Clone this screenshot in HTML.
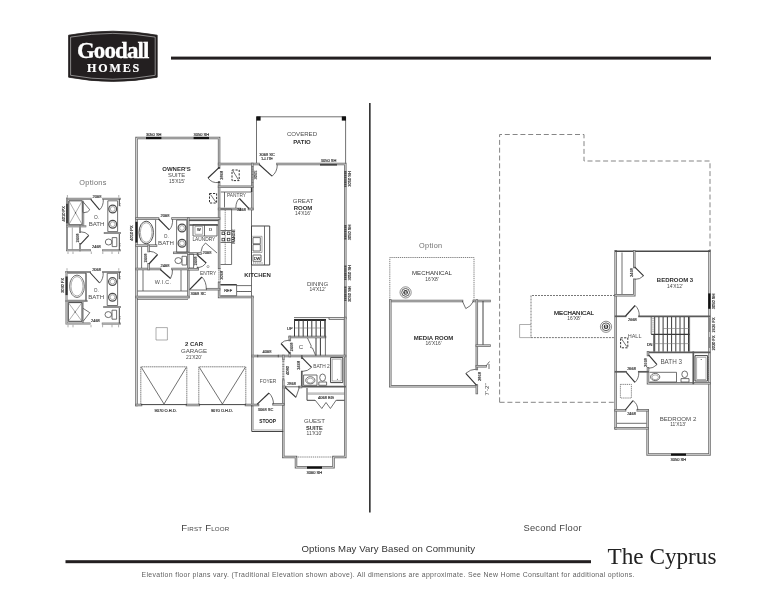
<!DOCTYPE html>
<html><head><meta charset="utf-8"><title>The Cyprus</title>
<style>
html,body{margin:0;padding:0;background:#fff;}
body{width:776px;height:600px;overflow:hidden;font-family:"Liberation Sans",sans-serif;}
svg{display:block;will-change:transform;opacity:0.9999;}
text{font-family:"Liberation Sans",sans-serif;}
.w{fill:none;stroke:#6a6a6a;stroke-width:2.5;stroke-linecap:square;stroke-linejoin:miter;}
.wi{fill:none;stroke:#d8d8d8;stroke-width:0.9;stroke-linecap:square;stroke-linejoin:miter;}
.w2{fill:none;stroke:#707070;stroke-width:2;stroke-linecap:square;}
.wi2{fill:none;stroke:#ddd;stroke-width:0.6;stroke-linecap:square;}
.wm{fill:none;stroke:#5a5a5a;stroke-width:1.7;stroke-linecap:square;}
.t{fill:none;stroke:#4c4c4c;stroke-width:0.8;}
.t2{fill:none;stroke:#444;stroke-width:1;}
.tk{fill:none;stroke:#222;stroke-width:1.3;}
.f{fill:none;stroke:#777;stroke-width:0.6;}
.dd{fill:none;stroke:#5a5a5a;stroke-width:0.75;stroke-dasharray:1.3 0.8;}
.dm{fill:none;stroke:#555;stroke-width:0.8;stroke-dasharray:2 1;}
.db{fill:none;stroke:#333;stroke-width:1;stroke-dasharray:2.2 1.3;}
.dn{fill:none;stroke:#666;stroke-width:0.8;stroke-dasharray:1.6 0.5;}
.dg{fill:none;stroke:#808080;stroke-width:0.95;stroke-dasharray:5 2.8;}
.r{font-size:6.1px;fill:#4c4c4c;}
.rb{font-size:6px;fill:#2e2e2e;font-weight:bold;}
.s{font-size:4.9px;fill:#444;}
.l{font-size:4px;fill:#222;stroke:#222;stroke-width:0.13;}
.m{font-size:4.8px;fill:#4c4c4c;}
.m2{font-size:6.3px;fill:#555;}
.m3{font-size:5.5px;fill:#555;}
.sb{font-size:4.8px;fill:#222;font-weight:bold;}
</style></head><body>
<svg width="776" height="600" viewBox="0 0 776 600">
<rect width="776" height="600" fill="#fff"/>
<g id="logo">
<path d="M68.6,35.2 Q112.8,27.2 157.2,35.2 L157.2,77.2 Q112.8,85.6 68.6,77.2 Z" fill="#231f20" stroke="#231f20" stroke-width="0.8" stroke-linejoin="round"/>
<path d="M70.6,37.1 Q112.8,29.7 155.2,37.1 L155.2,75.3 Q112.8,83.1 70.6,75.3 Z" fill="none" stroke="#cfcfcf" stroke-width="0.6"/>
<text x="76.9" y="58.3" textLength="71.6" lengthAdjust="spacingAndGlyphs" style="font-family:'Liberation Serif',serif;font-weight:bold;font-size:22.8px;fill:#fff;stroke:#fff;stroke-width:0.3;letter-spacing:-0.9px">Goodall</text>
<text x="87" y="71.5" textLength="52.2" lengthAdjust="spacing" style="font-family:'Liberation Serif',serif;font-weight:bold;font-size:12px;fill:#fff;stroke:#fff;stroke-width:0.2">HOMES</text>
</g>
<rect x="171" y="56.6" width="540" height="3" fill="#231f20"/>
<rect x="369.1" y="103" width="1.5" height="409.5" fill="#222"/>
<text x="181.3" y="530.8" style="font-size:9.6px;fill:#444;letter-spacing:0.2px">F<tspan style="font-size:6.2px">IRST</tspan> F<tspan style="font-size:6.2px">LOOR</tspan></text>
<text x="523.5" y="530.8" style="font-size:9.3px;fill:#444;letter-spacing:0.25px">Second Floor</text>
<text x="301.5" y="552" style="font-size:9.6px;fill:#333" textLength="173.5" lengthAdjust="spacing">Options May Vary Based on Community</text>
<rect x="65.5" y="560.2" width="525.5" height="3" fill="#231f20"/>
<text x="607.5" y="564" textLength="109" lengthAdjust="spacingAndGlyphs" style="font-family:'Liberation Serif',serif;font-size:23.4px;fill:#222">The Cyprus</text>
<text x="141.5" y="576.6" style="font-size:6.9px;fill:#606060;letter-spacing:0.12px" textLength="493" lengthAdjust="spacing">Elevation floor plans vary. (Traditional Elevation shown above). All dimensions are approximate. See New Home Consultant for additional options.</text>
<g id="first">
<path class="t" d="M256.5,164 V116.8 H345.6 V164"/>
<rect x="256.4" y="116.4" width="4.2" height="4.2" fill="#111"/>
<rect x="341.8" y="116.4" width="4.2" height="4.2" fill="#111"/>
<text x="302" y="136.4" class="r" text-anchor="middle" >COVERED</text>
<text x="302" y="144.2" class="rb" text-anchor="middle" >PATIO</text>
<path class="w" d="M136.5,405 V138 H219.1 V167.5"/>
<path class="wi" d="M136.5,405 V138 H219.1 V167.5"/>
<path class="w" d="M219.1,182.5 V268"/>
<path class="wi" d="M219.1,182.5 V268"/>
<path class="w" d="M219.1,283 V297 H252.3"/>
<path class="wi" d="M219.1,283 V297 H252.3"/>
<path class="w" d="M219.1,164 H258.5"/>
<path class="wi" d="M219.1,164 H258.5"/>
<path class="w" d="M277.5,164 H345.3 V318"/>
<path class="wi" d="M277.5,164 H345.3 V318"/>
<path class="t" d="M329,317.6 H345 M329,319.4 H345"/>
<path class="w" d="M345.3,318 V457 H333.5 V467.3 H296 V457 H283.3 V387"/>
<path class="wi" d="M345.3,318 V457 H333.5 V467.3 H296 V457 H283.3 V387"/>
<path class="f" d="M344,318.5 V356"/>
<path class="dd" d="M296,457 H333.5"/>
<path class="w" d="M252.3,164 V209"/>
<path class="wi" d="M252.3,164 V209"/>
<path class="t" d="M251.5,209 V296"/>
<path class="w" d="M219.1,186.8 H252.3"/>
<path class="wi" d="M219.1,186.8 H252.3"/>
<path class="t" d="M220.8,192 H251 M224.5,192 V207.5"/>
<path d="M251.6,187.5 V192" stroke="#333" stroke-width="1.4" fill="none"/>
<path class="w" d="M219.1,209 H240"/>
<path class="wi" d="M219.1,209 H240"/>
<path class="w" d="M249,209 H252.3"/>
<path class="wi" d="M249,209 H252.3"/>
<path class="w" d="M136.5,218.5 H158"/>
<path class="wi" d="M136.5,218.5 H158"/>
<path class="w" d="M172.5,218.5 H219.1"/>
<path class="wi" d="M172.5,218.5 H219.1"/>
<path class="w" d="M188.3,218.5 V297"/>
<path class="wi" d="M188.3,218.5 V297"/>
<path class="w" d="M136.5,269 H160"/>
<path class="wi" d="M136.5,269 H160"/>
<path class="w" d="M172.5,269 H188.3"/>
<path class="wi" d="M172.5,269 H188.3"/>
<path class="w" d="M136.5,297 H188.3"/>
<path class="wi" d="M136.5,297 H188.3"/>
<path class="t" d="M137,299.3 H188"/>
<path class="w" d="M136.5,245.6 H156"/>
<path class="wi" d="M136.5,245.6 H156"/>
<path class="t" d="M155.6,219.8 V245"/>
<path class="t" d="M141.6,247 V268"/>
<path class="w" d="M148.6,246 V251"/>
<path class="wi" d="M148.6,246 V251"/>
<path class="w" d="M148.6,264.3 V269"/>
<path class="wi" d="M148.6,264.3 V269"/>
<path class="w" d="M174.3,252.8 H188"/>
<path class="wi" d="M174.3,252.8 H188"/>
<path class="t2" d="M189,220.6 H218.5"/>
<path d="M189.5,225 H218" stroke="#222" stroke-width="1.2" fill="none"/>
<path class="w" d="M188.3,253.5 H200.5"/>
<path class="wi" d="M188.3,253.5 H200.5"/>
<path class="w" d="M207.3,289.2 H219.1"/>
<path class="wi" d="M207.3,289.2 H219.1"/>
<path class="w" d="M252.3,297 V405"/>
<path class="wi" d="M252.3,297 V405"/>
<path class="w" d="M136.5,405 H141"/>
<path class="wi" d="M136.5,405 H141"/>
<path class="w" d="M187,405 H198.8"/>
<path class="wi" d="M187,405 H198.8"/>
<path class="w" d="M246,405 H258"/>
<path class="wi" d="M246,405 H258"/>
<path class="w" d="M252.3,356 H257"/>
<path class="wi" d="M252.3,356 H257"/>
<path class="w" d="M279,356 H345"/>
<path class="wi" d="M279,356 H345"/>
<path class="w" d="M283.3,356 V359"/>
<path class="wi" d="M283.3,356 V359"/>
<path class="w" d="M283.3,380.5 V404.3"/>
<path class="wi" d="M283.3,380.5 V404.3"/>
<path class="w" d="M273.5,404.3 H283.3"/>
<path class="wi" d="M273.5,404.3 H283.3"/>
<path class="t2" d="M251.8,405 V431.5 H283.3"/>
<path class="f" d="M253.3,405 V430 H283.3"/>
<path class="wm" d="M301.8,356 V358"/>
<path class="wm" d="M301.8,371.5 V386.6 H345"/>
<path class="w" d="M301,387 H299.5"/>
<path class="wi" d="M301,387 H299.5"/>
<path class="w" d="M285,387 H283.3"/>
<path class="wi" d="M285,387 H283.3"/>
<path class="t" d="M285,386.8 H300"/>
<path class="t2" d="M307,388 V400.3 H315 M336.3,400.3 H344.5 "/>
<path class="f" d="M307.5,393 H344.5 M307.5,394.2 H344.5"/>
<path class="t" d="M315,400 L321.8,408.5 L326,402.5 L330.4,408.5 L336.3,400"/>
<text x="326" y="399.4" class="l" text-anchor="middle" >4068 BG</text>
<path class="w" d="M289.8,337 H325"/>
<path class="wi" d="M289.8,337 H325"/>
<path class="w" d="M289.8,337 V340"/>
<path class="wi" d="M289.8,337 V340"/>
<path class="w" d="M289.8,353.5 V356"/>
<path class="wi" d="M289.8,353.5 V356"/>
<path class="t" d="M294,317.6 H329 V319.6"/>
<path d="M294,320 H326" stroke="#222" stroke-width="1.9" fill="none"/>
<path d="M294.5,320 V336.5" stroke="#3a3a3a" stroke-width="1" fill="none"/>
<path d="M298.8,320 V336.5" stroke="#3a3a3a" stroke-width="1" fill="none"/>
<path d="M303.2,320 V336.5" stroke="#3a3a3a" stroke-width="1" fill="none"/>
<path d="M307.5,320 V336.5" stroke="#3a3a3a" stroke-width="1" fill="none"/>
<path d="M311.8,320 V336.5" stroke="#3a3a3a" stroke-width="1" fill="none"/>
<path d="M316.1,320 V336.5" stroke="#3a3a3a" stroke-width="1" fill="none"/>
<path d="M320.5,320 V336.5" stroke="#3a3a3a" stroke-width="1" fill="none"/>
<path d="M324.8,320 V336.5" stroke="#3a3a3a" stroke-width="1" fill="none"/>
<path class="t" d="M325.4,320 V355.5"/>
<path class="f" d="M295,328 H324"/>
<path d="M316,338 V355.5" stroke="#3a3a3a" stroke-width="1" fill="none"/>
<path d="M320.4,338 V355.5" stroke="#3a3a3a" stroke-width="1" fill="none"/>
<path class="t" d="M307.5,338 L311.3,346 L310.5,347.5 L312.5,348 L315.6,355.5"/>
<text x="289.8" y="330.2" class="l" text-anchor="middle" >UP</text>
<text x="301" y="349.2" class="r" text-anchor="middle" >C</text>
<text transform="translate(293,347) rotate(-90)" class="l" text-anchor="middle">2468</text>
<path d="M290,353.5 L281,343.5" stroke="#333" stroke-width="1.2" fill="none"/>
<path class="t" d="M281,343.5 L284.5,341 L290,340"/>
<path class="t" d="M257,355.3 H279 M257,356.8 H279"/>
<text x="267" y="353.3" class="l" text-anchor="middle" >4068</text>
<path d="M283.3,359 V381" stroke="#8a8a8a" stroke-width="2.2" stroke-dasharray="1.2 0.5" fill="none"/>
<text transform="translate(288.6,370.5) rotate(-90)" class="l" text-anchor="middle">4080</text>
<text x="291.6" y="385.2" class="l" text-anchor="middle" >2868</text>
<path d="M285.3,387.5 L296,397.3" stroke="#333" stroke-width="1.15" fill="none"/>
<path class="t" d="M296,397.3 L299.3,387.5"/>
<path d="M257,404.3 L269,393" stroke="#333" stroke-width="1.15" fill="none"/>
<path class="t" d="M269,393 Q273.5,397.5 273.5,404.3"/>
<text x="265.5" y="410.8" class="l" text-anchor="middle" >3068 SC</text>
<text transform="translate(300.3,365.3) rotate(-90)" class="l" text-anchor="middle">2468</text>
<path d="M302,357.6 L311.6,367.4" stroke="#333" stroke-width="1.1" fill="none"/>
<path class="t" d="M311.6,367.4 Q308,371.3 302,371.5"/>
<path class="t" d="M303.6,375 H317 V385.3 H303.6 Z"/>
<ellipse cx="310.3" cy="380.3" rx="4.6" ry="3.6" class="t"/>
<ellipse cx="310.3" cy="380.6" rx="3.2" ry="2.4" class="f"/>
<ellipse cx="322.6" cy="377.6" rx="2.9" ry="3.6" class="t"/>
<path class="t" d="M318.8,382 H326.6 V385.3 H318.8 Z"/>
<path class="t2" d="M330.6,357.6 H342.8 V382.6 H330.6 Z"/>
<path class="f" d="M332.2,359.2 H341.2 V381 H332.2 Z"/>
<circle cx="337.4" cy="379.3" r="0.5" fill="#333"/>
<path class="f" d="M343.9,358 V385"/>
<rect x="146" y="136.9" width="15.400000000000006" height="2.2" fill="#111"/>
<text x="153.7" y="135.8" class="l" text-anchor="middle" >3050 SH</text>
<rect x="193.6" y="136.9" width="15.400000000000006" height="2.2" fill="#111"/>
<text x="201.3" y="135.8" class="l" text-anchor="middle" >3050 SH</text>
<rect x="320" y="163.9" width="17" height="1.7" fill="#444"/>
<text x="328.5" y="162" class="l" text-anchor="middle" >3050 SH</text>
<path d="M345.3,171 V187" stroke="#505050" stroke-width="2.4" stroke-dasharray="1.4 0.45" fill="none"/>
<text transform="translate(350.6,179.0) rotate(-90)" class="l" text-anchor="middle">3050 SH</text>
<path d="M345.3,225 V240" stroke="#505050" stroke-width="2.4" stroke-dasharray="1.4 0.45" fill="none"/>
<text transform="translate(350.6,232.5) rotate(-90)" class="l" text-anchor="middle">3050 SH</text>
<path d="M345.3,265.6 V280" stroke="#505050" stroke-width="2.4" stroke-dasharray="1.4 0.45" fill="none"/>
<text transform="translate(350.6,272.8) rotate(-90)" class="l" text-anchor="middle">3050 SH</text>
<path d="M345.3,286.6 V301.6" stroke="#505050" stroke-width="2.4" stroke-dasharray="1.4 0.45" fill="none"/>
<text transform="translate(350.6,294.1) rotate(-90)" class="l" text-anchor="middle">3050 SH</text>
<rect x="135.4" y="221.8" width="2.2" height="20.8" fill="#222"/>
<text transform="translate(133.2,233) rotate(-90)" class="l" text-anchor="middle">4010 PX</text>
<path d="M252.3,166 V185" stroke="#777" stroke-width="2.4" stroke-dasharray="1 0.6" fill="none"/>
<text transform="translate(257.2,175) rotate(-90)" class="l" text-anchor="middle">3065</text>
<rect x="307" y="466.5" width="15" height="2.2" fill="#111"/>
<text x="314.4" y="473.8" class="l" text-anchor="middle" >3060 SH</text>
<text transform="translate(222.6,175.3) rotate(-90)" class="l" text-anchor="middle">2868</text>
<path d="M219,167.6 L208,178" stroke="#333" stroke-width="1.2" fill="none"/>
<path class="t" d="M208,178 Q212,183.6 219,182.4"/>
<circle cx="219.1" cy="167.7" r="0.8" fill="#222"/><circle cx="219.1" cy="182.3" r="0.8" fill="#222"/>
<text x="267" y="155.9" class="l" text-anchor="middle" >3068 SC</text>
<text x="267" y="159.8" class="l" text-anchor="middle" >1-LITE</text>
<path d="M259.2,164.5 L272,176.2" stroke="#333" stroke-width="1.1" fill="none"/>
<path class="t" d="M272,176.2 Q277.3,172 277.3,164.5"/>
<text x="165" y="216.8" class="l" text-anchor="middle" >2068</text>
<path d="M158.6,219 L169.3,229.8" stroke="#333" stroke-width="1.15" fill="none"/>
<path class="t" d="M169.3,229.8 Q173,226 172.6,219"/>
<text x="165" y="267" class="l" text-anchor="middle" >2468</text>
<path d="M160.3,269.5 L170.5,278.5" stroke="#333" stroke-width="1.15" fill="none"/>
<path class="t" d="M170.5,278.5 Q172.8,274 172.5,269.5"/>
<text transform="translate(147,258) rotate(-90)" class="l" text-anchor="middle">2468</text>
<path d="M148.9,264 L157.6,254.5" stroke="#333" stroke-width="1.15" fill="none"/>
<path class="t" d="M157.6,254.5 Q154,251.3 148.9,251.2"/>
<text x="241.6" y="210.6" class="l" text-anchor="middle" >2468</text>
<path d="M249,208.6 L239.4,198.5" stroke="#333" stroke-width="1.15" fill="none"/>
<path class="t" d="M239.4,198.5 Q236,201 235.8,208"/>
<text x="207" y="253.6" class="l" text-anchor="middle" >2068</text>
<path class="t" d="M205.5,243 L217,253 M205.5,243 Q201.5,246 201,251.8"/>
<path class="t" d="M189,254 H193.6 V268 H189"/>
<text transform="translate(197.4,261) rotate(-90)" class="l" text-anchor="middle">2468</text>
<path d="M197.5,255.2 L206.2,263" stroke="#333" stroke-width="1.2" fill="none"/>
<path class="t" d="M206.2,263 Q203.6,267 197.5,268"/>
<path class="wm" d="M197.6,253.8 V255 M197.6,267.6 V269"/>
<path class="w" d="M189,269.3 H197.6"/>
<path class="wi" d="M189,269.3 H197.6"/>
<circle cx="208" cy="266.6" r="1.1" class="f"/>
<path d="M189.6,289.6 L201.9,277" stroke="#333" stroke-width="1.2" fill="none"/>
<path class="t" d="M201.9,277 Q206.5,281.5 206.3,289.5 M189.6,290 H206.3"/>
<text x="198.2" y="294.6" class="l" text-anchor="middle" >3068 SC</text>
<text transform="translate(222.8,275.3) rotate(-90)" class="l" text-anchor="middle">3068</text>
<path class="dd" d="M218.8,268 V283 M220.2,268 V283"/>
<path class="f" d="M137.5,219.1 H156.5"/>
<ellipse cx="146.2" cy="232.5" rx="7.2" ry="11.3" class="t" style="stroke-width:1"/>
<ellipse cx="146.2" cy="232.5" rx="5.8" ry="9.8" class="f"/>
<path class="t" d="M176.6,220 H186.8 V252.3 H176.6 Z"/>
<circle cx="182" cy="228" r="3.9" class="t" style="stroke-width:1.2"/>
<circle cx="182" cy="228" r="2.4" class="f"/>
<circle cx="182" cy="243.3" r="3.9" class="t" style="stroke-width:1.2"/>
<circle cx="182" cy="243.3" r="2.4" class="f"/>
<ellipse cx="178.3" cy="260.6" rx="3.4" ry="3" class="t"/>
<path class="t" d="M182,256.3 H186.6 V265 H182 Z"/>
<path class="t" d="M143,270 V291 M181,270 V291 M137.5,291 H187.5"/>
<path class="t" d="M193,224.6 H204.5 V236 H193 Z M204.5,224.6 H217 V236 H204.5"/>
<path class="f" d="M195,226.4 H202.6 V234.3 H195 Z"/>
<text x="198.8" y="231.2" class="l" text-anchor="middle" >W</text>
<text x="210.6" y="231.2" class="l" text-anchor="middle" >D</text>
<path class="t" d="M220.5,209 H231.6 V264.5 H220.5"/>
<path class="dd" d="M225.2,210 V264"/>
<path class="t" d="M220.5,230.5 H231.6 M220.5,242.5 H231.6"/>
<rect x="222.0" y="232.0" width="2.6" height="2.6" class="t" style="stroke:#333"/>
<rect x="227.29999999999998" y="232.0" width="2.6" height="2.6" class="t" style="stroke:#333"/>
<rect x="222.0" y="238.29999999999998" width="2.6" height="2.6" class="t" style="stroke:#333"/>
<rect x="227.29999999999998" y="238.29999999999998" width="2.6" height="2.6" class="t" style="stroke:#333"/>
<text transform="translate(235.4,236.5) rotate(-90)" class="l" text-anchor="middle">RANGE</text>
<path class="t" d="M220.5,284.6 H236.6 V295.8 H220.5"/>
<path d="M220.5,284.8 H236.5" stroke="#333" stroke-width="1.3" fill="none"/>
<path class="t" d="M236.6,285.6 H251.5 M237,291.5 H251"/>
<path class="dd" d="M237,291.5 H251"/>
<text x="228.2" y="291.6" class="l" text-anchor="middle" >REF</text>
<path class="t2" d="M251.5,226 H269.7 V265 H251.5 Z"/>
<path class="t" d="M264.5,226 V265"/>
<path class="t" d="M253,237.6 H260.3 V243.8 H253 Z M253,244.6 H260.3 V251 H253 Z"/>
<path class="f" d="M252.3,236.3 H262 V252.5 H252.3"/>
<path class="t" d="M253,255 H261 V261.3 H253 Z"/>
<text x="257" y="259.6" class="l" text-anchor="middle" >DW</text>
<path class="dd" d="M253,263 H263"/>
<path class="db" d="M232,170 H239.2 V180.6 H232 Z"/>
<path class="t" d="M233,171 L238.4,179.8"/>
<path class="db" d="M209.5,193.5 H216.6 V203 H209.5 Z"/>
<path class="t" d="M210.5,194.5 L215.8,202"/>
<path class="f" d="M156,327.6 H167.4 V340 H156 Z"/>
<path class="dn" d="M140.8,404 V366.8 H186.8 V404"/>
<path class="dn" d="M198.8,404 V366.8 H245.8 V404"/>
<path class="t" d="M141.3,367.3 L164,404 L186.3,367.3"/>
<path class="t" d="M199.3,367.3 L222.4,404 L245.3,367.3"/>
<path class="t2" d="M141,404.6 H187 M198.8,404.6 H246"/>
<text x="165.6" y="411.6" class="l" text-anchor="middle" >9070 O.H.D.</text>
<text x="222" y="411.6" class="l" text-anchor="middle" >9070 O.H.D.</text>
<text x="176.5" y="170.8" class="rb" text-anchor="middle" >OWNER'S</text>
<text x="176.6" y="177.2" class="r" text-anchor="middle" style="font-size:5.8px">SUITE</text>
<text x="177" y="182.7" class="s" text-anchor="middle" >15'X15'</text>
<text x="236.5" y="197.3" class="m" text-anchor="middle" >PANTRY</text>
<text x="166.3" y="237.6" class="m" text-anchor="middle" >O.</text>
<text x="166" y="244.8" class="r" text-anchor="middle" >BATH</text>
<text x="203.8" y="241.3" class="m" text-anchor="middle" style="fill:#444">LAUNDRY</text>
<text x="208.1" y="274.7" class="m" text-anchor="middle" style="fill:#444">ENTRY</text>
<text x="163" y="284.3" class="r" text-anchor="middle" style="font-size:5.4px;letter-spacing:0.3px">W.I.C.</text>
<text x="257.5" y="277.3" class="rb" text-anchor="middle" >KITCHEN</text>
<text x="303" y="203" class="r" text-anchor="middle" >GREAT</text>
<text x="303" y="210" class="rb" text-anchor="middle" >ROOM</text>
<text x="303" y="215" class="s" text-anchor="middle" >14'X16'</text>
<text x="317.6" y="286" class="r" text-anchor="middle" >DINING</text>
<text x="317.6" y="291.3" class="s" text-anchor="middle" >14'X12'</text>
<text x="194" y="346" class="rb" text-anchor="middle" >2 CAR</text>
<text x="194" y="353.3" class="r" text-anchor="middle" >GARAGE</text>
<text x="194" y="358.5" class="s" text-anchor="middle" >21'X20'</text>
<text x="268" y="382.6" class="m" text-anchor="middle" >FOYER</text>
<text x="321.5" y="367.5" class="m" text-anchor="middle" >BATH 2</text>
<text x="267.6" y="423.3" class="sb" text-anchor="middle" >STOOP</text>
<text x="314.4" y="423" class="r" text-anchor="middle" >GUEST</text>
<text x="314.4" y="430" class="rb" text-anchor="middle" style="font-size:5.7px">SUITE</text>
<text x="314.4" y="435.4" class="s" text-anchor="middle" >11'X10'</text>
</g>
<g id="opts">
<text x="93" y="185" text-anchor="middle" style="font-size:7.3px;fill:#707070;letter-spacing:0.32px">Options</text>
<path class="w2" d="M67,198.8 H90.5"/>
<path class="wi2" d="M67,198.8 H90.5"/>
<path class="w2" d="M103.3,198.8 H119.8"/>
<path class="wi2" d="M103.3,198.8 H119.8"/>
<path class="w2" d="M67,198.8 V250.3 H90"/>
<path class="wi2" d="M67,198.8 V250.3 H90"/>
<path class="w2" d="M103,250.3 H119.8"/>
<path class="wi2" d="M103,250.3 H119.8"/>
<path class="t2" d="M119.3,198.8 V206 M119.3,232 V250.3"/>
<path class="dd" d="M120,203 V207 M120,243 V247"/>
<path class="t2" d="M68.8,200.8 H82.3 V224.8 H68.8 Z"/>
<path class="f" d="M68.8,200.8 L82.3,224.8 M82.3,200.8 L68.8,224.8"/>
<circle cx="75.5" cy="212.8" r="0.6" fill="#333"/>
<path class="t" d="M83.3,200.8 V212"/>
<path class="w2" d="M83.2,213 V225.5"/>
<path class="wi2" d="M83.2,213 V225.5"/>
<rect x="66" y="203.8" width="2.2" height="19.4" fill="#444"/>
<text transform="translate(64.9,213.8) rotate(-90)" class="l" text-anchor="middle">4010 PX</text>
<path class="w2" d="M67,226.3 H85.3"/>
<path class="wi2" d="M67,226.3 H85.3"/>
<path class="w2" d="M80,226.3 V232"/>
<path class="wi2" d="M80,226.3 V232"/>
<path class="w2" d="M80,244 V250.3"/>
<path class="wi2" d="M80,244 V250.3"/>
<path class="f" d="M72.3,227.5 V249.5"/>
<text x="97" y="198.2" class="l" text-anchor="middle" >2068</text>
<path d="M90.8,199.3 L99.6,209.8" stroke="#333" stroke-width="1.1" fill="none"/>
<path class="t" d="M99.6,209.8 Q103.6,206 103.3,199.3"/>
<path class="t" d="M83.3,202 L89.8,209.8 Q88.5,212.5 83.3,212.8"/>
<text transform="translate(78.8,238) rotate(-90)" class="l" text-anchor="middle">2468</text>
<path d="M80.4,244.3 L88.8,235.3" stroke="#333" stroke-width="1.1" fill="none"/>
<path class="t" d="M88.8,235.3 Q85.5,231.6 80.4,231.8"/>
<text x="96.4" y="248.3" class="l" text-anchor="middle" >2468</text>
<path class="t" d="M107.8,200.8 H117.6 V231.6 H107.8 Z"/>
<circle cx="112.7" cy="209" r="3.9" class="t" style="stroke-width:1.2"/>
<circle cx="112.7" cy="209" r="2.4" class="f"/>
<circle cx="112.7" cy="224.2" r="3.9" class="t" style="stroke-width:1.2"/>
<circle cx="112.7" cy="224.2" r="2.4" class="f"/>
<path class="w2" d="M104.8,233 H119.8"/>
<path class="wi2" d="M104.8,233 H119.8"/>
<ellipse cx="108.6" cy="242" rx="3.3" ry="3" class="t"/>
<path class="t" d="M112.2,237.6 H116.8 V246.6 H112.2 Z"/>
<text x="96.6" y="219.3" class="m" text-anchor="middle" >O.</text>
<text x="96.6" y="226" class="r" text-anchor="middle" >BATH</text>
<path class="w2" d="M66.5,272 H89.8"/>
<path class="wi2" d="M66.5,272 H89.8"/>
<path class="w2" d="M103.2,272 H119.8"/>
<path class="wi2" d="M103.2,272 H119.8"/>
<path class="w2" d="M66.5,272 V323.6 H89.5"/>
<path class="wi2" d="M66.5,272 V323.6 H89.5"/>
<path class="w2" d="M102.8,323.6 H119.8"/>
<path class="wi2" d="M102.8,323.6 H119.8"/>
<path class="t2" d="M119.3,272 V279 M119.3,306 V323.6"/>
<path class="dd" d="M120,276 V280 M120,316 V320"/>
<path class="t" d="M67.5,273.2 H86 V300.3 H67.5"/>
<ellipse cx="77" cy="286.3" rx="7.4" ry="11.2" class="t"/>
<ellipse cx="77" cy="286.3" rx="6" ry="9.7" class="f"/>
<rect x="65.5" y="276.5" width="2.2" height="18.6" fill="#333"/>
<text transform="translate(63.9,285.5) rotate(-90)" class="l" text-anchor="middle">3030 FX</text>
<path class="w2" d="M66.5,301 H86.5"/>
<path class="wi2" d="M66.5,301 H86.5"/>
<path class="t" d="M86,273 V301"/>
<path class="t2" d="M68.3,302.6 H82 V321.3 H68.3 Z"/>
<path class="f" d="M68.3,302.6 L82,321.3 M82,302.6 L68.3,321.3"/>
<circle cx="75.1" cy="312" r="0.6" fill="#333"/>
<path class="t" d="M83,302 V323"/>
<path class="t" d="M83,321.5 L89.8,312.7 L83,308.3"/>
<text x="96.6" y="271.2" class="l" text-anchor="middle" >2068</text>
<path d="M90,272.5 L99.6,283" stroke="#333" stroke-width="1.1" fill="none"/>
<path class="t" d="M99.6,283 Q103.5,279 103.2,272.5"/>
<text x="95.4" y="321.9" class="l" text-anchor="middle" >2468</text>
<path class="t" d="M107.2,273.3 H117.6 V305.5 H107.2 Z"/>
<circle cx="112.5" cy="281.6" r="3.9" class="t" style="stroke-width:1.2"/>
<circle cx="112.5" cy="281.6" r="2.4" class="f"/>
<circle cx="112.5" cy="297.2" r="3.9" class="t" style="stroke-width:1.2"/>
<circle cx="112.5" cy="297.2" r="2.4" class="f"/>
<path class="w2" d="M104.3,307 H119.8"/>
<path class="wi2" d="M104.3,307 H119.8"/>
<ellipse cx="108.3" cy="314.6" rx="3.3" ry="3" class="t"/>
<path class="t" d="M112,310.2 H116.6 V319.2 H112 Z"/>
<text x="96.2" y="292" class="m" text-anchor="middle" >O.</text>
<text x="96.2" y="299" class="r" text-anchor="middle" >BATH</text>
<path class="f" d="M68,251.5 V254 M73,251.5 V254 M91.3,251.5 V254 M102.8,251.5 V254 M112,251.5 V254 M118.6,251.5 V254 M67.4,195 V197.5 M118.8,195 V197.5"/>
<path class="f" d="M68,324.8 V327.3 M73,324.8 V327.3 M91,324.8 V327.3 M102.6,324.8 V327.3 M112,324.8 V327.3 M118.6,324.8 V327.3 M67,268.2 V270.7 M118.8,268.2 V270.7"/>
</g>
<g id="second">
<path class="dg" d="M499.6,402.3 V134.5 H584 V161 H710 V251"/>
<path class="dg" d="M499.6,402.3 H615"/>
<text x="430.8" y="248" text-anchor="middle" style="font-size:7.3px;fill:#707070;letter-spacing:0.32px">Option</text>
<path class="dd" d="M389.8,300 V257.5 H474 V300"/>
<text x="432" y="275.2" class="r" text-anchor="middle" style="fill:#333">MECHANICAL</text>
<text x="432" y="280.6" class="s" text-anchor="middle" >16'X8'</text>
<path class="w" d="M390.3,301 H462"/>
<path class="wi" d="M390.3,301 H462"/>
<path class="w" d="M473.8,301 H489.5"/>
<path class="wi" d="M473.8,301 H489.5"/>
<path class="w" d="M390.3,300.5 V386.3 H476.8"/>
<path class="wi" d="M390.3,300.5 V386.3 H476.8"/>
<path class="w" d="M476.8,300.5 V369"/>
<path class="wi" d="M476.8,300.5 V369"/>
<path class="w" d="M476.8,385.5 V393"/>
<path class="wi" d="M476.8,385.5 V393"/>
<path class="t2" d="M483,301 V345.5"/>
<path class="w" d="M476.8,345.6 H489.5"/>
<path class="wi" d="M476.8,345.6 H489.5"/>
<path class="w" d="M476.8,366.3 H485.5"/>
<path class="wi" d="M476.8,366.3 H485.5"/>
<path class="t" d="M462.3,301 L465.8,308.6 Q471,306.5 473.6,301"/>
<text transform="translate(480.6,376.5) rotate(-90)" class="l" text-anchor="middle">2868</text>
<path d="M476.6,385.3 L465.8,373.3" stroke="#333" stroke-width="1.15" fill="none"/>
<path class="t" d="M465.8,373.3 Q470,369.3 476.8,369"/>
<path class="t" d="M486,366 L489.5,361.5 M489,364 V369"/>
<text transform="translate(489,389.5) rotate(-90)" class="r" text-anchor="middle">7'-2&quot;</text>
<text x="433.6" y="340" class="rb" text-anchor="middle" >MEDIA ROOM</text>
<text x="433.6" y="345.4" class="s" text-anchor="middle" >16'X16'</text>
<circle cx="405.6" cy="292.4" r="5.6" class="f" style="stroke:#444"/>
<circle cx="405.6" cy="292.4" r="3.9" class="t" style="stroke:#333"/>
<circle cx="405.6" cy="292.4" r="2.3" fill="#333"/>
<text x="405.6" y="293.59999999999997" text-anchor="middle" style="font-size:3.4px;fill:#fff;font-weight:bold">S</text>
<circle cx="606" cy="326.8" r="5.6" class="f" style="stroke:#444"/>
<circle cx="606" cy="326.8" r="3.9" class="t" style="stroke:#333"/>
<circle cx="606" cy="326.8" r="2.3" fill="#333"/>
<text x="606" y="328.0" text-anchor="middle" style="font-size:3.4px;fill:#fff;font-weight:bold">S</text>
<path class="dm" d="M615,295.5 H531 V337.6 H615"/>
<path class="f" d="M531,324.5 H519.6 V337.6 H531"/>
<text x="574" y="314.6" class="r" text-anchor="middle" style="fill:#222;stroke:#222;stroke-width:0.2">MECHANICAL</text>
<text x="574" y="320.3" class="s" text-anchor="middle" >16'X8'</text>
<path class="w" d="M615.6,428.3 V251.3"/>
<path class="wi" d="M615.6,428.3 V251.3"/>
<path class="w" d="M709.5,251.3 V454.6 H647.6 V410.3"/>
<path class="wi" d="M709.5,251.3 V454.6 H647.6 V410.3"/>
<path d="M615,251.2 H710.3" stroke="#4a4a4a" stroke-width="1.6" fill="none"/>
<path class="w" d="M615.6,428.3 H647.6"/>
<path class="wi" d="M615.6,428.3 H647.6"/>
<path class="w" d="M634.3,251.3 V267"/>
<path class="wi" d="M634.3,251.3 V267"/>
<path class="w" d="M634.3,279.8 V295.3 H615.6"/>
<path class="wi" d="M634.3,279.8 V295.3 H615.6"/>
<path class="t" d="M622,252.5 V294"/>
<text transform="translate(632.6,272.6) rotate(-90)" class="l" text-anchor="middle">2468</text>
<path d="M634.6,266.8 L643.6,275.8" stroke="#333" stroke-width="1.15" fill="none"/>
<path class="t" d="M643.6,275.8 Q640,279.6 634.6,279.4"/>
<path class="wm" d="M615.6,316.3 H625.5"/>
<path class="wm" d="M639,316.3 H709.5"/>
<text x="632.4" y="320.6" class="l" text-anchor="middle" >2668</text>
<path d="M625.6,316 L635.1,305.5" stroke="#333" stroke-width="1.15" fill="none"/>
<path class="t" d="M635.1,305.5 Q639.6,309.5 639.2,316"/>
<path class="t" d="M651.2,317 V334.2"/>
<path class="dd" d="M653,318 V333"/>
<path d="M654.7,317 V351.7" stroke="#3a3a3a" stroke-width="1" fill="none"/>
<path d="M658.9,317 V351.7" stroke="#3a3a3a" stroke-width="1" fill="none"/>
<path d="M663.1,317 V351.7" stroke="#3a3a3a" stroke-width="1" fill="none"/>
<path d="M667.4,317 V351.7" stroke="#3a3a3a" stroke-width="1" fill="none"/>
<path d="M671.6,317 V351.7" stroke="#3a3a3a" stroke-width="1" fill="none"/>
<path d="M675.8,317 V351.7" stroke="#3a3a3a" stroke-width="1" fill="none"/>
<path d="M680.0,317 V351.7" stroke="#3a3a3a" stroke-width="1" fill="none"/>
<path d="M684.2,317 V351.7" stroke="#3a3a3a" stroke-width="1" fill="none"/>
<path d="M688.5,317 V351.7" stroke="#3a3a3a" stroke-width="1" fill="none"/>
<path class="t" d="M653.6,334.2 V351.7 M689.6,317 V351.7"/>
<path d="M651.2,334.3 H689.6" stroke="#3a3a3a" stroke-width="1.3" fill="none"/>
<path class="f" d="M663,328.5 H689 M654,343.6 H689"/>
<text x="634.6" y="337.8" class="m3" text-anchor="middle" >HALL</text>
<text x="649.6" y="345.5" class="l" text-anchor="middle" >DN</text>
<path class="wm" d="M648,352.4 H709.5"/>
<path class="w" d="M648,352.3 V355"/>
<path class="wi" d="M648,352.3 V355"/>
<path class="w" d="M648,368.3 V383.3 H709.5"/>
<path class="wi" d="M648,368.3 V383.3 H709.5"/>
<path class="wm" d="M693.3,352.3 V383.3"/>
<text transform="translate(647,362.6) rotate(-90)" class="l" text-anchor="middle">2668</text>
<path d="M648.6,354.8 L657,364.6" stroke="#333" stroke-width="1.15" fill="none"/>
<path class="t" d="M657,364.6 Q653,368.5 648.6,368.3"/>
<text x="671.2" y="364.4" class="m2" text-anchor="middle" >BATH 3</text>
<path class="t" d="M649.5,372.3 H676.5 V382 H649.5"/>
<ellipse cx="655.2" cy="377" rx="4.6" ry="3.6" class="t"/>
<ellipse cx="655.2" cy="377.3" rx="3.2" ry="2.4" class="f"/>
<ellipse cx="684.7" cy="374.3" rx="2.9" ry="3.3" class="t"/>
<path class="t" d="M681,378.6 H689 V382 H681 Z"/>
<path class="t2" d="M695,355.6 H707.6 V381 H695 Z"/>
<path class="f" d="M696.6,357.3 H706 V379.5 H696.6 Z"/>
<circle cx="701.2" cy="359.6" r="0.5" fill="#333"/>
<path class="dd" d="M708.3,357 V380"/>
<path class="wm" d="M615.6,371.8 H626"/>
<path class="wm" d="M638.8,371.8 H648"/>
<text x="631.6" y="370" class="l" text-anchor="middle" >2668</text>
<path d="M626.3,372.3 L635,382.3" stroke="#333" stroke-width="1.15" fill="none"/>
<path class="t" d="M635,382.3 Q639,378.5 638.8,372.3"/>
<path class="w" d="M615.6,410.3 H625"/>
<path class="wi" d="M615.6,410.3 H625"/>
<path class="w" d="M637.8,410.3 H647.6"/>
<path class="wi" d="M637.8,410.3 H647.6"/>
<text x="631.6" y="414.8" class="l" text-anchor="middle" >2468</text>
<path d="M625.3,410 L633,400.6" stroke="#333" stroke-width="1.15" fill="none"/>
<path class="t" d="M633,400.6 Q637.8,404 637.8,410"/>
<path class="t" d="M617,423.3 H646.5"/>
<path class="db" d="M620.6,337.8 H627.8 V347.8 H620.6 Z"/>
<path class="t" d="M621.6,339 L626.8,346.6"/>
<path class="dd" d="M620.4,384.4 H631.4 V398 H620.4 Z"/>
<rect x="708.2" y="293.4" width="2.4" height="15.4" fill="#111"/>
<text transform="translate(715.3,301.4) rotate(-90)" class="l" text-anchor="middle">3050 SH</text>
<rect x="708.4" y="317.5" width="2" height="14.5" fill="#888"/>
<text transform="translate(715.3,325) rotate(-90)" class="l" text-anchor="middle">2626 FX</text>
<rect x="708.4" y="337" width="2" height="11" fill="#888"/>
<text transform="translate(715.3,343) rotate(-90)" class="l" text-anchor="middle">2020 FX</text>
<rect x="671" y="453.5" width="15" height="2.2" fill="#111"/>
<text x="678.4" y="460.6" class="l" text-anchor="middle" >3050 SH</text>
<text x="675" y="282.4" class="rb" text-anchor="middle" >BEDROOM 3</text>
<text x="675" y="288" class="s" text-anchor="middle" >14'X12'</text>
<text x="678" y="421" class="r" text-anchor="middle" >BEDROOM 2</text>
<text x="678" y="426.3" class="s" text-anchor="middle" >11'X13'</text>
</g>
</svg>
</body></html>
